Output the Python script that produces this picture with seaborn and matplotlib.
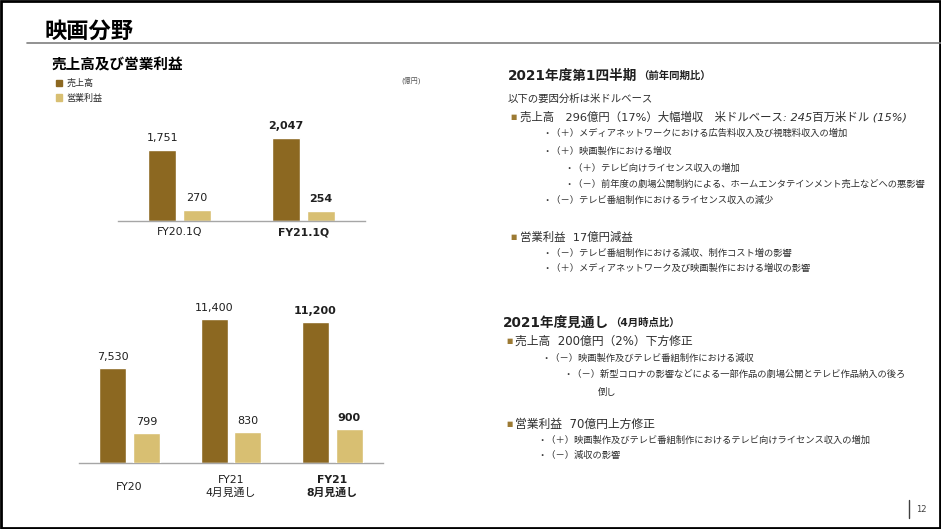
import matplotlib
matplotlib.use("Agg")
import matplotlib.pyplot as plt
import matplotlib.patches as mpatches
import matplotlib.lines as mlines
import seaborn as sns
import pandas as pd

# chart values (億円)
Q_CATS   = ["FY20.1Q", "FY21.1Q"]
Q_SALES  = [1751, 2047]
Q_PROFIT = [270, 254]

Y_CATS   = ["FY20", "FY21\n4月見通し", "FY21\n8月見通し"]
Y_SALES  = [7530, 11400, 11200]
Y_PROFIT = [799, 830, 900]

SERIES   = ["売上高", "営業利益"]
PALETTE  = {"売上高": "#8C6821", "営業利益": "#D8BF72"}
GOLD     = "#9C7A33"
INK      = "#1F1F1F"
BODY     = "#2E2E2E"
W, H     = 941, 529

sns.set_theme(style="white")
plt.rcParams["font.family"] = ["DejaVu Sans", "Noto Sans CJK JP"]


def long_df(cats, sales, profit):
    return pd.DataFrame({
        "cat": cats * 2,
        "series": [SERIES[0]] * len(cats) + [SERIES[1]] * len(cats),
        "value": list(sales) + list(profit),
    })


def px_axes(fig, left, top, right, bottom):
    return fig.add_axes([left / W, 1 - bottom / H, (right - left) / W, (bottom - top) / H])


def ftxt(fig, x, y, s, **kw):
    kw.setdefault("va", "center")
    kw.setdefault("color", BODY)
    return fig.text(x / W, 1 - y / H, s, **kw)


def after(fig, t, y, s, gap=0, **kw):
    """place text s right after text object t"""
    r = fig.canvas.get_renderer()
    x1 = t.get_window_extent(r).x1
    return ftxt(fig, x1 + gap, y, s, **kw)


def style_axis(ax, pad):
    ax.set_facecolor("none")
    for side in ("top", "left", "right"):
        ax.spines[side].set_visible(False)
    ax.spines["bottom"].set_color("#A6A6A6")
    ax.spines["bottom"].set_linewidth(1)
    ax.set_yticks([])
    ax.set_xlabel("")
    ax.set_ylabel("")
    ax.tick_params(axis="x", length=0, pad=pad, labelsize=7.8, labelcolor=INK)
    plt.setp(ax.get_xticklabels(), va="center", linespacing=1.3)
    ax.get_xticklabels()[-1].set_fontweight("bold")


fig = plt.figure(figsize=(W / 100, H / 100), dpi=100)
fig.patch.set_facecolor("white")

# ---- quarter chart -------------------------------------------------------
ax = px_axes(fig, 118, 110, 365, 221)
sns.barplot(data=long_df(Q_CATS, Q_SALES, Q_PROFIT), x="cat", y="value",
            hue="series", hue_order=SERIES, palette=PALETTE, saturation=1,
            width=0.565, gap=0.2, legend=False, ax=ax)
ax.set_xlim(-0.5, 1.5)
ax.set_ylim(0, 111 / 0.0405)
style_axis(ax, pad=8)
for cont in ax.containers:
    labs = ax.bar_label(cont, fmt="{:,.0f}", padding=5, fontsize=8, color=INK)
    labs[-1].set_fontweight("bold")

# ---- full-year chart (profit drawn on its own scale) ---------------------
df_y = long_df(Y_CATS, Y_SALES, Y_PROFIT)
ax_s = px_axes(fig, 79, 290, 383, 463)
ax_p = px_axes(fig, 79, 290, 383, 463)
for a, keep, ymax in ((ax_s, 0, 173 / 0.0126), (ax_p, 1, 173 / 0.0373)):
    sns.barplot(data=df_y, x="cat", y="value", hue="series", hue_order=SERIES,
                palette=PALETTE, saturation=1, width=0.666, gap=0.2,
                legend=False, ax=a)
    for bar in a.containers[1 - keep]:
        bar.set_visible(False)
    a.set_xlim(-0.5, 2.5)
    a.set_ylim(0, ymax)
    labs = a.bar_label(a.containers[keep], fmt="{:,.0f}", padding=4.5,
                       fontsize=8, color=INK)
    labs[-1].set_fontweight("bold")
style_axis(ax_s, pad=17)
ax_p.set_axis_off()

# ---- legend + headings ---------------------------------------------------
handles = [mpatches.Patch(color=PALETTE[s], label=s) for s in SERIES]
fig.legend(handles=handles, loc="upper left", bbox_to_anchor=(56 / W, 1 - 79 / H),
           frameon=False, fontsize=6.5, handlelength=0.7, handleheight=0.7,
           handletextpad=0.45, labelspacing=0.6, borderpad=0, borderaxespad=0,
           labelcolor=BODY)

ftxt(fig, 45, 31, "映画分野", fontsize=16, fontweight="bold", color="black")
fig.add_artist(mlines.Line2D([27 / W, 1], [1 - 43 / H] * 2, transform=fig.transFigure,
                             color="#7F7F7F", lw=1.2))
ftxt(fig, 52, 65, "売上高及び営業利益", fontsize=10.5, fontweight="bold", color="black")
ftxt(fig, 401, 80, "(億円)", fontsize=5, color="#555555")

# ---- right column text ---------------------------------------------------
fig.canvas.draw()


def bullet(y, s, x=510, tx=520, size=8.2):
    ftxt(fig, x, y, "■", fontsize=4.8, color=GOLD)
    return ftxt(fig, tx, y, s, fontsize=size)


h1 = ftxt(fig, 508, 76, "2021年度第1四半期", fontsize=9.8, fontweight="bold", color=INK)
after(fig, h1, 76, "（前年同期比）", gap=1, fontsize=7.5, fontweight="bold", color=INK)
ftxt(fig, 508, 99, "以下の要因分析は米ドルベース", fontsize=7.5)

b1 = bullet(117, "売上高　296億円（17%）大幅増収　米ドルベース")
after(fig, b1, 117, ": 245百万米ドル (15%)", fontsize=8.2, style="italic")
SUB = 6.7
ftxt(fig, 542, 133, "・（＋）メディアネットワークにおける広告料収入及び視聴料収入の増加", fontsize=SUB)
ftxt(fig, 542, 151, "・（＋）映画製作における増収", fontsize=SUB)
ftxt(fig, 564, 168, "・（＋）テレビ向けライセンス収入の増加", fontsize=SUB)
ftxt(fig, 564, 184, "・（－）前年度の劇場公開制約による、ホームエンタテインメント売上などへの悪影響", fontsize=SUB)
ftxt(fig, 542, 200, "・（－）テレビ番組制作におけるライセンス収入の減少", fontsize=SUB)

bullet(237, "営業利益  17億円減益")
ftxt(fig, 542, 253, "・（－）テレビ番組制作における減収、制作コスト増の影響", fontsize=SUB)
ftxt(fig, 542, 268, "・（＋）メディアネットワーク及び映画製作における増収の影響", fontsize=SUB)

h2 = ftxt(fig, 503, 323, "2021年度見通し", fontsize=9.8, fontweight="bold", color=INK)
after(fig, h2, 323, "（4月時点比）", gap=1, fontsize=7.5, fontweight="bold", color=INK)

bullet(341, "売上高  200億円（2%）下方修正", x=506, tx=515, size=8.5)
ftxt(fig, 541, 358, "・（－）映画製作及びテレビ番組制作における減収", fontsize=SUB)
ftxt(fig, 563, 374, "・（－）新型コロナの影響などによる一部作品の劇場公開とテレビ作品納入の後ろ", fontsize=SUB)
ftxt(fig, 598, 392, "倒し", fontsize=SUB)

bullet(424, "営業利益  70億円上方修正", x=506, tx=515, size=8.5)
ftxt(fig, 537, 440, "・（＋）映画製作及びテレビ番組制作におけるテレビ向けライセンス収入の増加", fontsize=SUB)
ftxt(fig, 537, 455, "・（－）減収の影響", fontsize=SUB)

# ---- page furniture ------------------------------------------------------
fig.add_artist(mlines.Line2D([909 / W] * 2, [1 - 500 / H, 1 - 518 / H],
                             transform=fig.transFigure, color="#404040", lw=1))
ftxt(fig, 916, 510, "12", fontsize=6, color="#404040")
fig.add_artist(mpatches.Rectangle((1 / W, 1 / H), (W - 2) / W, (H - 2) / H,
                                  transform=fig.transFigure, fill=False,
                                  ec="black", lw=2))

fig.savefig("out.png", dpi=100, facecolor="white")
